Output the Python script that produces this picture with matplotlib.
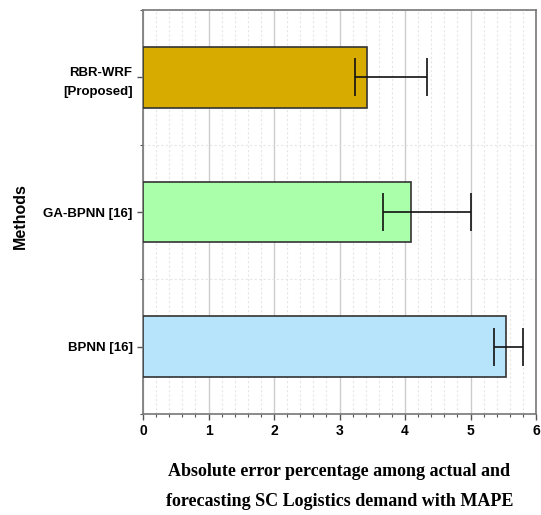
import matplotlib
matplotlib.use("Agg")
import matplotlib.pyplot as plt
from matplotlib.ticker import MultipleLocator
import numpy as np

methods = ["BPNN [16]", "GA-BPNN [16]", "RBR-WRF\n[Proposed]"]
values = [5.54, 4.09, 3.42]
err_low = [0.18, 0.42, 0.18]
err_high = [0.26, 0.91, 0.91]
colors = ["#b8e4fb", "#aaffaa", "#d8ab00"]

fig = plt.figure(figsize=(5.41, 5.15), dpi=100)
ax = fig.add_axes([143/541, 1 - 414/515, (536-143)/541, (414-10)/515])

y = np.arange(len(methods))
ax.barh(y, values, height=0.45, color=colors, edgecolor="#333333", linewidth=1.2, zorder=3)
ax.errorbar(values, y, xerr=[err_low, err_high], fmt="none", ecolor="#111111",
            elinewidth=1.2, capsize=14, capthick=1.2, zorder=4)

ax.set_xlim(0, 6)
ax.set_ylim(-0.5, 2.5)
ax.set_yticks(y)
ax.set_yticklabels(methods, fontfamily="Liberation Sans", fontweight="bold", fontsize=9.5,
                   linespacing=1.8)
ax.xaxis.set_major_locator(MultipleLocator(1))
ax.xaxis.set_minor_locator(MultipleLocator(0.2))
ax.yaxis.set_minor_locator(MultipleLocator(0.5))
for lab in ax.get_xticklabels():
    lab.set_fontfamily("Liberation Sans")
    lab.set_fontweight("bold")
    lab.set_fontsize(10)

ax.grid(True, which="major", axis="x", color="#cccccc", linewidth=1.0, zorder=0)
ax.grid(True, which="minor", axis="x", color="#e6e6e6", linewidth=0.8, linestyle=(0, (2, 2)), zorder=0)
ax.grid(True, which="minor", axis="y", color="#e6e6e6", linewidth=0.8, linestyle=(0, (2, 2)), zorder=0)

for s in ax.spines.values():
    s.set_color("#777777")
    s.set_linewidth(1.2)
ax.tick_params(axis="both", which="major", length=4, width=1, color="#555555")
ax.tick_params(axis="both", which="minor", length=2.5, width=0.8, color="#555555")

ax.set_ylabel("Methods", fontfamily="Liberation Sans", fontweight="bold", fontsize=11.5)
ax.yaxis.set_label_coords((28 - 143) / 393, 0.49)
ax.set_xlabel("Absolute error percentage among actual and\nforecasting SC Logistics demand with MAPE",
              fontfamily="Liberation Serif", fontweight="bold", fontsize=13, labelpad=18,
              linespacing=2.0)

fig.savefig("out.png", dpi=100)
